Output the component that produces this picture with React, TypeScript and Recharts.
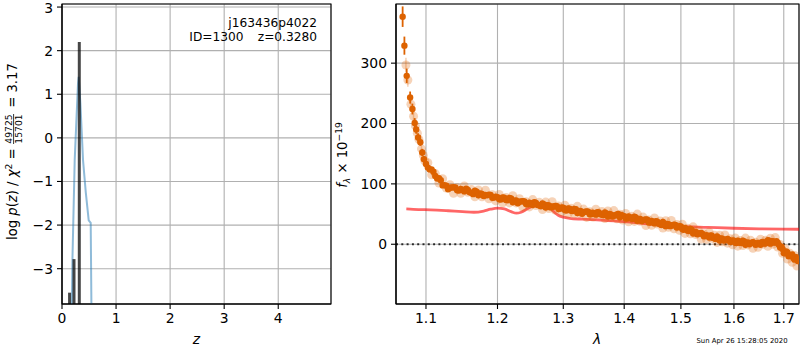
import React from 'react';
import {
  ComposedChart,
  Line,
  Scatter,
  XAxis,
  YAxis,
  CartesianGrid,
  ReferenceLine,
  ReferenceArea,
  ErrorBar,
} from 'recharts';

const FONT = '"DejaVu Sans", sans-serif';
const ORANGE = '#dd6200';

// ---------- left panel: p(z) ----------
const pzZ = [0.17, 0.193, 0.235, 0.296, 0.309, 0.34, 0.389, 0.44, 0.494, 0.531, 0.552];
const pzLogP = [-5, -2.8, -0.51, 1.25, 1.4, 0.79, -0.51, -1.25, -1.89, -1.95, -5];
const chi2Z = [0.14, 0.222, 0.32];
const chi2V = [-3.55, -2.78, 2.2];
const zTicks = [0, 1, 2, 3, 4];
const lpTicks = [-3, -2, -1, 0, 1, 2, 3];
const zDomain = [0, 4.976];
const lpDomain = [-3.81, 3.07];

// ---------- right panel: spectrum ----------
const earlyDarkLam = [1.0692, 1.0715, 1.0745, 1.079, 1.082, 1.085, 1.087, 1.0895, 1.0925, 1.095, 1.0972];
const earlyDarkFlux = [377, 329, 279, 243, 224, 201, 190, 177, 169, 152, 141];
const earlyDarkErr = [17, 15, 12, 10, 9, 8, 7, 7, 6, 6, 5];

const earlyLightLam = [1.0735, 1.076, 1.08, 1.0835, 1.086, 1.0885, 1.0905, 1.094, 1.0965, 1.0985];
const earlyLightFlux = [297, 272, 232, 212, 196, 184, 174, 158, 147, 138];
const earlyLightErr = [12, 11, 10, 9, 8, 7, 7, 6, 6, 5];

const bandDarkLam = [
  1.1, 1.105, 1.11, 1.115, 1.12, 1.125, 1.13, 1.135, 1.14, 1.145, 1.15, 1.155, 1.16, 1.165, 1.17, 1.175,
  1.18, 1.185, 1.19, 1.195, 1.2, 1.205, 1.21, 1.215, 1.22, 1.225, 1.23, 1.235, 1.24, 1.245, 1.25, 1.255,
  1.26, 1.265, 1.27, 1.275, 1.28, 1.285, 1.29, 1.295, 1.3, 1.305, 1.31, 1.315, 1.32, 1.325, 1.33, 1.335,
  1.34, 1.345, 1.35, 1.355, 1.36, 1.365, 1.37, 1.375, 1.38, 1.385, 1.39, 1.395, 1.4, 1.405, 1.41, 1.415,
  1.42, 1.425, 1.43, 1.435, 1.44, 1.445, 1.45, 1.455, 1.46, 1.465, 1.47, 1.475, 1.48, 1.485, 1.49, 1.495,
  1.5, 1.505, 1.51, 1.515, 1.52, 1.525, 1.53, 1.535, 1.54, 1.545, 1.55, 1.555, 1.56, 1.565, 1.57, 1.575,
  1.58, 1.585, 1.59, 1.595, 1.6, 1.605, 1.61, 1.615, 1.62, 1.625, 1.63, 1.635, 1.64, 1.645, 1.65, 1.655,
  1.66, 1.665, 1.67, 1.675, 1.68, 1.685, 1.69, 1.695, 1.7, 1.705, 1.71, 1.715, 1.72, 1.725, 1.73,
];
const bandDarkFlux = [
  133, 124, 120, 109, 106, 98, 91, 94, 94, 89, 90, 92, 86, 83, 87, 84,
  80, 81, 81.5, 77.5, 78, 74, 77, 73, 76, 72, 68, 71, 71, 66, 67.5, 69.5,
  65, 63, 66, 64.5, 61, 62, 63, 59, 60.5, 56, 59, 55, 58, 54.5, 50.5, 54,
  54, 49.5, 51, 53, 49.5, 48, 51, 50, 46, 47.5, 50, 48.5, 46.5, 42.5, 45, 42,
  44.5, 41.5, 38.5, 40.5, 40.5, 36, 37, 38, 34, 32, 34.5, 33.5, 30, 31, 32, 28.5,
  29.5, 24, 25, 22, 23.5, 20, 16.5, 18, 17, 13.5, 13.5, 14.5, 10.5, 8.5, 10.5, 9.5,
  6, 7, 7.5, 4.5, 6, 2, 4.5, 2, 4.5, 2, -0.2, 2.5, 2.2, 0, 1, 3.5,
  1, 2, 6, 5, 3, 5, -1, -4, -15, -12, -20, -18, -23, -21, -28,
];

const bandLightLam = [
  1.1025, 1.1075, 1.1125, 1.1175, 1.1225, 1.1275, 1.1325, 1.1375, 1.1425, 1.1475, 1.1525, 1.1575, 1.1625,
  1.1675, 1.1725, 1.1775, 1.1825, 1.1875, 1.1925, 1.1975, 1.2025, 1.2075, 1.2125, 1.2175, 1.2225, 1.2275,
  1.2325, 1.2375, 1.2425, 1.2475, 1.2525, 1.2575, 1.2625, 1.2675, 1.2725, 1.2775, 1.2825, 1.2875, 1.2925,
  1.2975, 1.3025, 1.3075, 1.3125, 1.3175, 1.3225, 1.3275, 1.3325, 1.3375, 1.3425, 1.3475, 1.3525, 1.3575,
  1.3625, 1.3675, 1.3725, 1.3775, 1.3825, 1.3875, 1.3925, 1.3975, 1.4025, 1.4075, 1.4125, 1.4175, 1.4225,
  1.4275, 1.4325, 1.4375, 1.4425, 1.4475, 1.4525, 1.4575, 1.4625, 1.4675, 1.4725, 1.4775, 1.4825, 1.4875,
  1.4925, 1.4975, 1.5025, 1.5075, 1.5125, 1.5175, 1.5225, 1.5275, 1.5325, 1.5375, 1.5425, 1.5475, 1.5525,
  1.5575, 1.5625, 1.5675, 1.5725, 1.5775, 1.5825, 1.5875, 1.5925, 1.5975, 1.6025, 1.6075, 1.6125, 1.6175,
  1.6225, 1.6275, 1.6325, 1.6375, 1.6425, 1.6475, 1.6525, 1.6575, 1.6625, 1.6675, 1.6725, 1.6775, 1.6825,
  1.6875, 1.6925, 1.6975, 1.7025, 1.7075, 1.7125, 1.7175, 1.7225, 1.7275,
];
const bandLightFlux = [
  135, 115, 117, 101.5, 108.5, 93, 98.5, 84.5, 93.5, 84.5, 96.5, 86, 90.5,
  78.5, 90, 78.5, 89.5, 75.2, 82, 71.8, 82.5, 68.5, 77.5, 68.5, 80.5, 68.5,
  75.5, 61.5, 70.5, 61.8, 74, 64.2, 69.5, 57.5, 69.8, 59.2, 70.5, 56.5, 63.5,
  53.8, 64.8, 50.5, 59.5, 50.5, 62.8, 51, 58.2, 44.5, 53.8, 45.2, 58, 48.8,
  54.2, 42.5, 55, 44.5, 55.8, 42.2, 49.8, 40, 51, 37.2, 46.5, 37.8, 50,
  38, 45, 31, 40.2, 31.5, 43.5, 33.5, 38.5, 26.8, 39, 28.2, 39.5, 25.5,
  32.8, 23, 33.2, 18, 26.5, 17.2, 28.8, 16.2, 22.8, 8.5, 17.2, 8, 20,
  10, 15, 3, 15, 4.2, 15.5, 1.8, 9, -0.8, 10.5, -3.2, 6.2, -2.2,
  10.2, -1.1, 6.6, -6.6, 3.1, -5, 8.2, -0.2, 6.5, -3.5, 10, 0, 11,
  -4.5, -0.5, -15, -7, -24.5, -15, -30, -18.5, -36,
];
// second set of darker points sitting between the first
const bandDark2Flux = [
  127, 124, 113, 109.5, 97.5, 97, 93.5, 94.5, 89.5, 91.5, 87.5, 90, 85.5,
  88.5, 81, 83.5, 81.5, 82.2, 77, 78.8, 74.5, 77.5, 73.5, 76.5, 69.5, 72.5,
  70.5, 71.5, 66.5, 68.8, 65, 68.2, 64.5, 67.5, 60.8, 64.2, 62.5, 63.5, 58.5,
  60.8, 56.8, 59.5, 55.5, 58.5, 51.8, 55, 53.2, 54.5, 49.8, 52.2, 49, 52.8,
  49.2, 52.5, 46, 49.5, 47.8, 49.2, 44.8, 47, 43, 46.2, 42.5, 45.8, 39,
  42, 40, 41, 36.2, 38.5, 34.5, 37.5, 33.5, 36.8, 30, 33.2, 31.5, 32.5,
  27.8, 30, 25.2, 27, 22.5, 25.2, 17.8, 20.2, 17.8, 18.5, 13.2, 15, 11,
  14, 10, 13, 6, 9.2, 7.5, 8.8, 4, 6.2, 2.5, 5.8, 2.2, 5.8,
  -0.8, 2.9, 1.6, 3.4, -0.9, 2, -0.8, 3.8, 1.5, 6.5, 1, 5, 3,
  2.5, -5.5, -8, -15, -13.5, -19, -17, -25.5, -25,
];

const modelLam = [
  1.074, 1.09, 1.106, 1.13, 1.15, 1.166, 1.18, 1.19, 1.2, 1.21, 1.22, 1.228, 1.235, 1.245, 1.255, 1.263,
  1.27, 1.277, 1.285, 1.292, 1.3, 1.31, 1.33, 1.36, 1.4, 1.45, 1.5, 1.55, 1.6, 1.65, 1.7, 1.735,
];
const modelFlux = [
  58.5, 57.5, 57, 55.5, 54, 53, 55, 58, 59.7, 58.5, 54, 51.4, 53, 59, 64.5, 66.5,
  65.5, 62, 54, 48, 45, 43, 41.5, 40, 37.5, 33, 29.5, 28, 26.5, 25.5, 25, 24.8,
];

const lamTicks = [1.1, 1.2, 1.3, 1.4, 1.5, 1.6, 1.7];
const fluxTicks = [0, 100, 200, 300];
const lamDomain = [1.0606, 1.7318];
const fluxDomain = [-99, 398];

const fmtMinus = (v: number) => (v < 0 ? `\u2212${-v}` : `${v}`);

const tickStyle = { fill: '#000', fontSize: 13.9, fontFamily: FONT };
const axisStroke = { stroke: '#000', strokeWidth: 1.1 };

const darkDot = (p: any) => <circle cx={p.cx} cy={p.cy} r={3.2} fill={ORANGE} />;
const lightDot = (p: any) => <circle cx={p.cx} cy={p.cy} r={4.5} fill={ORANGE} fillOpacity={0.28} />;

export default function App() {
  const pzData = pzZ.map((z, i) => ({ z, v: pzLogP[i] }));
  const earlyDark = earlyDarkLam.map((lam, i) => ({ lam, f: earlyDarkFlux[i], err: earlyDarkErr[i] }));
  const earlyLight = earlyLightLam.map((lam, i) => ({ lam, f: earlyLightFlux[i], err: earlyLightErr[i] }));
  const bandDark = bandDarkLam.map((lam, i) => ({ lam, f: bandDarkFlux[i] }));
  const bandDark2 = bandLightLam.map((lam, i) => ({ lam, f: bandDark2Flux[i] }));
  const bandLight = bandLightLam.map((lam, i) => ({ lam, f: bandLightFlux[i] }));
  const model = modelLam.map((lam, i) => ({ lam, f: modelFlux[i] }));

  return (
    <div style={{ position: 'absolute', left: 0, top: 0, width: 800, height: 350, background: '#fff' }}>
      <div style={{ position: 'absolute', left: 0, top: 0 }}>
        <ComposedChart width={340} height={350} margin={{ top: 4, right: 9, bottom: 0, left: 0 }}>
          <CartesianGrid stroke="#b0b0b0" strokeWidth={1.1} />
          <XAxis
            dataKey="z"
            type="number"
            domain={zDomain}
            ticks={zTicks}
            allowDataOverflow
            height={46}
            tickSize={5}
            tickMargin={4}
            tick={tickStyle}
            axisLine={axisStroke}
            tickLine={axisStroke}
          />
          <YAxis
            dataKey="v"
            type="number"
            domain={lpDomain}
            ticks={lpTicks}
            allowDataOverflow
            width={62}
            tickSize={5}
            tickMargin={4}
            tick={tickStyle}
            tickFormatter={fmtMinus}
            axisLine={axisStroke}
            tickLine={axisStroke}
          />
          <Line
            data={pzData}
            dataKey="v"
            type="linear"
            stroke="#1f77b4"
            strokeOpacity={0.5}
            strokeWidth={2}
            dot={false}
            isAnimationActive={false}
          />
          {chi2Z.map((z, i) => (
            <ReferenceLine
              key={i}
              segment={[{ x: z, y: lpDomain[0] }, { x: z, y: chi2V[i] }]}
              stroke="#000"
              strokeOpacity={0.72}
              strokeWidth={3}
            />
          ))}
          <ReferenceArea
            x1={zDomain[0]}
            x2={zDomain[1]}
            y1={lpDomain[0]}
            y2={lpDomain[1]}
            fill="none"
            stroke="#000"
            strokeWidth={1.1}
          />
        </ComposedChart>
      </div>

      <div style={{ position: 'absolute', left: 330, top: 0 }}>
        <ComposedChart width={470} height={350} margin={{ top: 4, right: 1, bottom: 0, left: 0 }}>
          <CartesianGrid stroke="#b0b0b0" strokeWidth={1.1} />
          <XAxis
            dataKey="lam"
            type="number"
            scale="log"
            domain={lamDomain}
            ticks={lamTicks}
            allowDataOverflow
            height={46}
            tickSize={5}
            tickMargin={4}
            tick={tickStyle}
            tickFormatter={(v: number) => v.toFixed(1)}
            axisLine={axisStroke}
            tickLine={axisStroke}
          />
          <YAxis
            dataKey="f"
            type="number"
            domain={fluxDomain}
            ticks={fluxTicks}
            allowDataOverflow
            width={66}
            tickSize={5}
            tickMargin={4}
            tick={tickStyle}
            axisLine={axisStroke}
            tickLine={axisStroke}
          />
          <Scatter data={earlyLight} dataKey="f" shape={lightDot} isAnimationActive={false}>
            <ErrorBar dataKey="err" direction="y" width={0} stroke={ORANGE} strokeOpacity={0.3} strokeWidth={1.5} />
          </Scatter>
          <Scatter data={bandLight} dataKey="f" shape={lightDot} isAnimationActive={false} />
          <Scatter data={earlyDark} dataKey="f" shape={darkDot} isAnimationActive={false}>
            <ErrorBar dataKey="err" direction="y" width={0} stroke={ORANGE} strokeWidth={1.8} />
          </Scatter>
          <Scatter data={bandDark} dataKey="f" shape={darkDot} isAnimationActive={false} />
          <Scatter data={bandDark2} dataKey="f" shape={darkDot} isAnimationActive={false} />
          <Line
            data={model}
            dataKey="f"
            type="monotone"
            stroke="#ff0000"
            strokeOpacity={0.6}
            strokeWidth={2.8}
            dot={false}
            isAnimationActive={false}
          />
          <ReferenceLine y={0} stroke="#000" strokeOpacity={0.8} strokeWidth={2} strokeDasharray="2 3.3" />
          <ReferenceArea
            x1={lamDomain[0]}
            x2={lamDomain[1]}
            y1={fluxDomain[0]}
            y2={fluxDomain[1]}
            fill="none"
            stroke="#000"
            strokeWidth={1.1}
          />
        </ComposedChart>
      </div>

      <svg
        width={800}
        height={350}
        style={{ position: 'absolute', left: 0, top: 0, pointerEvents: 'none' }}
        fontFamily={FONT}
      >
        <text x={317} y={26.5} fontSize={12.2} textAnchor="end" fill="#000">j163436p4022</text>
        <text x={243.5} y={40.5} fontSize={12.2} textAnchor="end" fill="#000">ID=1300</text>
        <text x={317} y={40.5} fontSize={12.2} textAnchor="end" fill="#000">z=0.3280</text>
        <g transform="translate(17,156) rotate(-90)" fill="#000">
          <text x={-84} y={0} fontSize={13.2} style={{ whiteSpace: 'pre' }}>
            <tspan>log </tspan>
            <tspan fontStyle="italic">p</tspan>
            <tspan>(</tspan>
            <tspan fontStyle="italic">z</tspan>
            <tspan>) / </tspan>
            <tspan fontStyle="italic">χ</tspan>
            <tspan fontSize={9.2} dy={-5.2}>2</tspan>
            <tspan dy={5.2}> = </tspan>
          </text>
          <text x={27} y={-4.8} fontSize={9.2} textAnchor="middle">49725</text>
          <line x1={12} x2={42} y1={-3.4} y2={-3.4} stroke="#000" strokeWidth={0.8} />
          <text x={27} y={5.3} fontSize={9.2} textAnchor="middle">15701</text>
          <text x={44} y={0} fontSize={13.2} style={{ whiteSpace: 'pre' }}> = 3.17</text>
        </g>
        <g transform="translate(347,155) rotate(-90)" fill="#000">
          <text x={0} y={0} fontSize={13.2} textAnchor="middle" style={{ whiteSpace: 'pre' }}>
            <tspan fontStyle="italic">f</tspan>
            <tspan fontSize={9.2} fontStyle="italic" dy={3}>λ</tspan>
            <tspan dy={-3}> × 10</tspan>
            <tspan fontSize={9.2} dy={-5.2}>−19</tspan>
          </text>
        </g>
        <text x={196.5} y={344} fontSize={13.9} fontStyle="italic" textAnchor="middle" fill="#000">z</text>
        <text x={597} y={344} fontSize={13.9} fontStyle="italic" textAnchor="middle" fill="#000">λ</text>
        <text x={742} y={343} fontSize={6.9} textAnchor="middle" fill="#000">Sun Apr 26 15:28:05 2020</text>
      </svg>
    </div>
  );
}
